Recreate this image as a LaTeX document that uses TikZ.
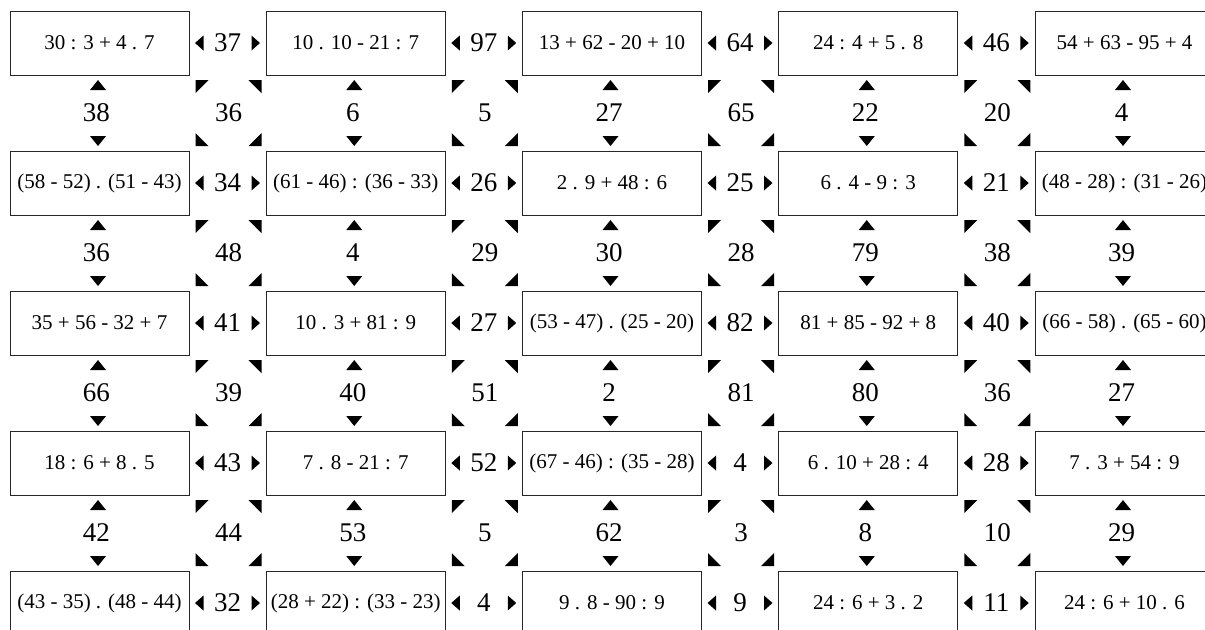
\documentclass[tikz,border=0pt]{standalone}
\usepackage{fontspec}
\setmainfont{Liberation Serif}
\usepackage{tikz}

\begin{document}
\begin{tikzpicture}[
  x=0.5pt, y=-0.5pt,
  expr/.style={
    rectangle, draw=black!85, line width=0.5pt, inner sep=0pt,
    minimum width=89.5pt, minimum height=32pt,
    font=\fontsize{10.5}{12}\selectfont
  },
  num/.style={inner sep=0pt, font=\fontsize{13.5}{16}\selectfont},
  hnum/.style={num, minimum width=34pt, minimum height=17pt,
    path picture={
      \fill (path picture bounding box.center) ++(-16.25pt,0pt)
        -- ++(4.25pt,3.75pt) -- ++(0pt,-7.5pt) -- cycle;
      \fill (path picture bounding box.center) ++(16.25pt,0pt)
        -- ++(-4.25pt,3.75pt) -- ++(0pt,-7.5pt) -- cycle;
    }},
  vnum/.style={num, minimum width=18pt, minimum height=34pt,
    path picture={
      \fill (path picture bounding box.center) ++(0.75pt,16.5pt)
        -- ++(-4pt,-5pt) -- ++(8pt,0pt) -- cycle;
      \fill (path picture bounding box.center) ++(0.75pt,-16.5pt)
        -- ++(-4pt,5pt) -- ++(8pt,0pt) -- cycle;
    }},
  dnum/.style={num, minimum width=34pt, minimum height=34pt,
    path picture={
      \fill (path picture bounding box.center) ++(-16.5pt,16.5pt)
        -- ++(6.5pt,0pt) -- ++(-6.5pt,-6.5pt) -- cycle;
      \fill (path picture bounding box.center) ++(16.5pt,16.5pt)
        -- ++(-6.5pt,0pt) -- ++(6.5pt,-6.5pt) -- cycle;
      \fill (path picture bounding box.center) ++(-16.5pt,-16.5pt)
        -- ++(6.5pt,0pt) -- ++(-6.5pt,6.5pt) -- cycle;
      \fill (path picture bounding box.center) ++(16.5pt,-16.5pt)
        -- ++(-6.5pt,0pt) -- ++(6.5pt,6.5pt) -- cycle;
    }},
]
\useasboundingbox (0,0) rectangle (1205,629);
\clip (0,0) rectangle (1205,629);

% Expression boxes
\foreach \t [count=\c] in {{30 : 3 + 4 . 7},{10 . 10 - 21 : 7},{13 + 62 - 20 + 10},{24 : 4 + 5 . 8},{54 + 63 - 95 + 4}}
  \node[expr] (b-1-\c) at ({99.5+256.25*(\c-1)},43) {\t};
\foreach \t [count=\c] in {{(58 - 52) . (51 - 43)},{(61 - 46) : (36 - 33)},{2 . 9 + 48 : 6},{6 . 4 - 9 : 3},{(48 - 28) : (31 - 26)}}
  \node[expr] (b-2-\c) at ({99.5+256.25*(\c-1)},183) {\t};
\foreach \t [count=\c] in {{35 + 56 - 32 + 7},{10 . 3 + 81 : 9},{(53 - 47) . (25 - 20)},{81 + 85 - 92 + 8},{(66 - 58) . (65 - 60)}}
  \node[expr] (b-3-\c) at ({99.5+256.25*(\c-1)},323) {\t};
\foreach \t [count=\c] in {{18 : 6 + 8 . 5},{7 . 8 - 21 : 7},{(67 - 46) : (35 - 28)},{6 . 10 + 28 : 4},{7 . 3 + 54 : 9}}
  \node[expr] (b-4-\c) at ({99.5+256.25*(\c-1)},463) {\t};
\foreach \t [count=\c] in {{(43 - 35) . (48 - 44)},{(28 + 22) : (33 - 23)},{9 . 8 - 90 : 9},{24 : 6 + 3 . 2},{24 : 6 + 10 . 6}}
  \node[expr] (b-5-\c) at ({99.5+256.25*(\c-1)},603) {\t};

% Numbers between neighbours in a row
\foreach \n [count=\c] in {37,97,64,46}
  \node[hnum] (h-1-\c) at ({227.5+256.25*(\c-1)},43) {\n};
\foreach \n [count=\c] in {34,26,25,21}
  \node[hnum] (h-2-\c) at ({227.5+256.25*(\c-1)},183) {\n};
\foreach \n [count=\c] in {41,27,82,40}
  \node[hnum] (h-3-\c) at ({227.5+256.25*(\c-1)},323) {\n};
\foreach \n [count=\c] in {43,52,4,28}
  \node[hnum] (h-4-\c) at ({227.5+256.25*(\c-1)},463) {\n};
\foreach \n [count=\c] in {32,4,9,11}
  \node[hnum] (h-5-\c) at ({227.5+256.25*(\c-1)},603) {\n};

% Numbers between neighbours in a column
\foreach \n [count=\c] in {38,6,27,22,4}
  \node[vnum] (v-1-\c) at ({96.5+256.25*(\c-1)},113) {\n};
\foreach \n [count=\c] in {36,4,30,79,39}
  \node[vnum] (v-2-\c) at ({96.5+256.25*(\c-1)},253) {\n};
\foreach \n [count=\c] in {66,40,2,80,27}
  \node[vnum] (v-3-\c) at ({96.5+256.25*(\c-1)},393) {\n};
\foreach \n [count=\c] in {42,53,62,8,29}
  \node[vnum] (v-4-\c) at ({96.5+256.25*(\c-1)},533) {\n};

% Diagonal numbers
\foreach \n [count=\c] in {36,5,65,20}
  \node[dnum] (d-1-\c) at ({228.5+256.25*(\c-1)},113) {\n};
\foreach \n [count=\c] in {48,29,28,38}
  \node[dnum] (d-2-\c) at ({228.5+256.25*(\c-1)},253) {\n};
\foreach \n [count=\c] in {39,51,81,36}
  \node[dnum] (d-3-\c) at ({228.5+256.25*(\c-1)},393) {\n};
\foreach \n [count=\c] in {44,5,3,10}
  \node[dnum] (d-4-\c) at ({228.5+256.25*(\c-1)},533) {\n};
\end{tikzpicture}
\end{document}
